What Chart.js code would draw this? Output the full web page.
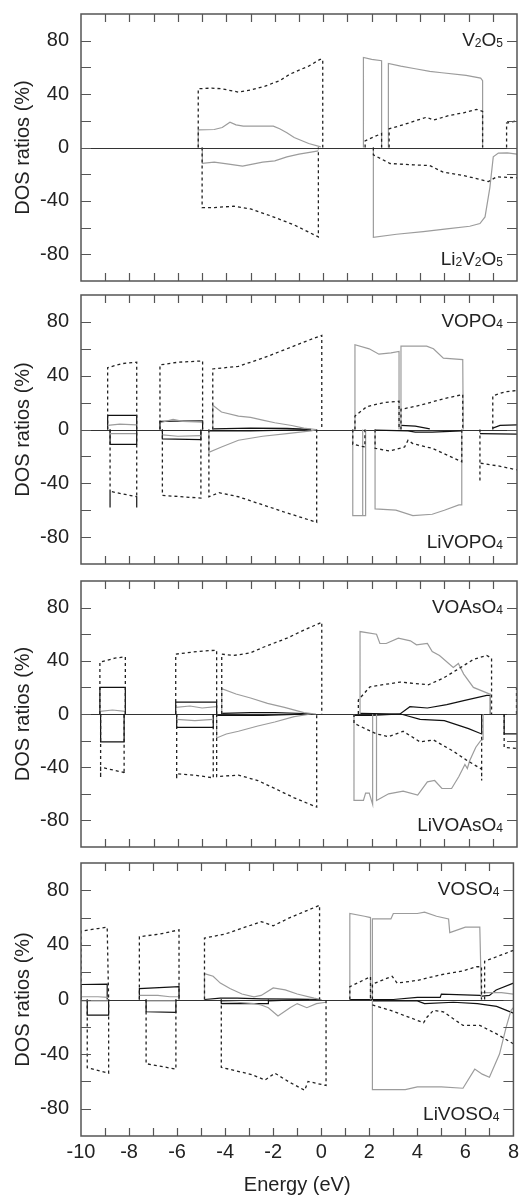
<!DOCTYPE html>
<html>
<head>
<meta charset="utf-8">
<title>DOS ratios</title>
<script src="https://cdn.jsdelivr.net/npm/chart.js@4.4.1/dist/chart.umd.min.js"></script>
<style>
  body { margin: 0; background: #fff; }
  #wrap { position: relative; width: 523px; height: 1199px; }
  #wrap canvas { position: absolute; left: 0; }
</style>
</head>
<body>
<div id="wrap"></div>
<script>
//* GLOBALS / DATA *//
const energyTicks = [-10, -8, -6, -4, -2, 0, 2, 4, 6, 8];
const ratioTicks = [-80, -40, 0, 40, 80];
const topNames = ['V2O5', 'VOPO4', 'VOAsO4', 'VOSO4'];
const bottomNames = ['Li2V2O5', 'LiVOPO4', 'LiVOAsO4', 'LiVOSO4'];

// V2O5 (up) / Li2V2O5 (down)   [energy eV, ratio %], null = gap
const p1DashUp = [[-5.16,0],[-5.16,44],[-4.6,44.5],[-4.2,44],[-3.5,41.5],[-3,43],[-2.4,46],[-1.8,50],[-1.37,55],[-0.6,61],[-0.13,66],[-0.02,66],[-0.02,0],null,
  [1.73,0],[1.73,5],[2.41,10.5],[2.41,0],null,[2.72,0],[2.72,14],[3.3,17],[3.8,20],[4.27,22.7],[4.55,20.5],[5.2,24],[5.8,26],[6.34,28.5],[6.58,27],[6.58,0],null,[7.57,0],[7.57,18.3],[8,20]];
const p1GrayUp = [[-5.16,0],[-5.16,13.2],[-4.5,13.5],[-4.17,15],[-3.85,19],[-3.6,17],[-3.3,16],[-2.6,16],[-2.06,16],[-1.8,14],[-1.5,11],[-1.2,7.5],[-0.6,3],[-0.1,0.5],null,
  [1.66,0],[1.66,67.4],[2.0,66],[2.41,65],[2.41,0],null,[2.69,0],[2.69,63],[3.2,61],[3.8,59],[4.4,57],[4.9,56],[5.9,54],[6.5,52],[6.58,50],[6.58,0]];
const p1BlackUp = [];
const p1DashDown = [[-5.0,0],[-5.0,-45],[-4.5,-45],[-3.7,-44],[-3.0,-46],[-2.2,-51],[-1.2,-58],[-0.2,-67],[-0.2,0],null,
  [2.07,0],[2.07,-5.5],[2.76,-12],[3.72,-13],[4.4,-13.5],[4.95,-18.5],[5.8,-21],[6.82,-25.5],[7.16,-22],[8,-22.7]];
const p1GrayDown = [[-4.99,0],[-4.99,-11.8],[-4.5,-11],[-3.9,-12.5],[-3.33,-14],[-2.5,-11],[-2.0,-10],[-1.5,-7],[-1.0,-5],[-0.5,-3.5],[-0.2,-2.5],null,
  [2.07,0],[2.07,-67.3],[3.03,-65],[4.13,-63],[5.1,-61],[6.05,-59],[6.47,-57],[6.68,-52],[6.88,-30],[7.02,-7],[7.23,-4.2],[7.6,-4],[8,-5]];
const p1BlackDown = [];

// VOPO4 (up) / LiVOPO4 (down)
const p2DashUp = [[-8.9,0],[-8.9,46],[-8.3,49],[-7.7,50],[-7.7,0],null,[-6.74,0],[-6.74,48],[-6.0,50],[-4.98,51],[-4.98,0],null,
  [-4.56,0],[-4.56,45],[-3.5,47],[-2.5,53],[-1.5,60],[-0.8,65],[-0.06,70],[-0.06,0],null,
  [1.31,0],[1.31,10],[1.8,17],[2.5,20],[3.13,21],[3.13,0],null,[3.21,0],[3.21,15],[4.0,18],[5.0,23],[5.76,26],[5.76,0],null,[7.0,0],[7.0,25],[7.5,28],[8,29]];
const p2GrayUp = [[-8.9,3],[-8.4,4],[-7.7,3.5],null,[-6.74,5],[-6.2,7.5],[-5.8,6],[-4.98,5.5],null,
  [-4.56,0],[-4.56,18],[-4.2,13],[-3.5,10],[-3.0,9],[-2.5,7],[-2.0,5],[-1.3,3],[-0.8,1],[-0.3,0],null,
  [1.31,0],[1.31,63],[1.9,60],[2.3,56],[2.8,57],[3.13,58],[3.13,0],null,[3.21,0],[3.21,62],[4.27,62],[4.55,60],[4.96,53],[5.76,52],[5.78,0]];
const p2BlackUp = [[-8.9,0],[-8.9,10.5],[-7.7,10.5],[-7.7,0],null,[-6.74,0],[-6.74,6],[-4.98,6.5],[-4.98,0],null,
  [-4.56,0.5],[-3.0,1],[-1.5,0.8],[-0.5,0.2],null,[3.21,3],[3.8,2.5],[4.4,0.5],null,[7.0,1],[7.3,3],[8,3.5]];
const p2DashDown = [[-8.8,0],[-8.8,-58],[-8.8,-46],[-7.7,-50],[-7.7,-58],[-7.7,0],null,[-6.64,0],[-6.64,-49],[-5.05,-51],[-5.05,0],null,
  [-4.72,0],[-4.72,-50],[-4.3,-47],[-3.5,-50],[-2.5,-56],[-1.5,-62],[-0.27,-69],[-0.27,0],null,
  [1.22,0],[1.22,-11],[1.72,-13],[1.72,0],null,[2.14,0],[2.14,-14],[2.75,-16],[3.36,-13],[3.5,-8],[3.7,-10.5],[4.5,-14],[5.72,-24],[5.72,0],null,
  [6.47,0],[6.47,-39],[6.47,-25],[7.2,-27],[8,-30]];
const p2GrayDown = [[-8.8,-3],[-7.7,-3],null,[-6.64,-4],[-6.0,-5],[-5.05,-4.5],null,
  [-4.72,0],[-4.72,-17],[-4.2,-13],[-3.5,-8],[-2.5,-5],[-1.5,-3],[-0.5,-1],[-0.27,0],null,
  [1.22,0],[1.22,-64],[1.75,-64],[1.75,0],null,[1.63,0],[1.63,-64],null,
  [2.14,0],[2.14,-59],[3.0,-60],[3.7,-64],[4.5,-63],[5.0,-60],[5.6,-56],[5.72,-56],[5.72,0]];
const p2BlackDown = [[-8.8,0],[-8.8,-11],[-7.7,-11],[-7.7,0],null,[-6.64,0],[-6.64,-7],[-5.05,-7.5],[-5.05,0],null,
  [-4.72,-1],[-3.0,-1],[-1.5,-0.5],[-0.5,0],null,[2.14,-0.5],[3.5,-1],[3.8,-2],[4.5,-2],[5.72,-1],null,[6.47,-3],[8,-3.5]];

// VOAsO4 (up) / LiVOAsO4 (down)
const p3DashUp = [[-9.22,0],[-9.22,39],[-8.6,42],[-8.17,43],[-8.17,0],null,[-6.09,0],[-6.09,45],[-5.2,47],[-4.4,48],[-4.4,0],null,
  [-4.19,0],[-4.19,45],[-3.7,44],[-3.0,46],[-2.5,50],[-1.5,57],[-0.8,63],[-0.06,69],[-0.06,0],null,
  [1.45,0],[1.45,10.5],[1.93,20.5],[3.17,24],[4.34,22],[4.96,27],[5.5,33],[6.2,41],[6.75,44],[6.95,42],[6.95,0],null,[7.98,0],[7.98,20]];
const p3GrayUp = [[-9.22,2],[-8.7,3],[-8.17,2],null,[-6.09,5],[-5.5,6],[-5.0,4.5],[-4.4,5.5],null,
  [-4.19,0],[-4.19,19],[-3.6,15],[-3.0,12],[-2.3,8],[-1.6,5],[-0.8,1],[-0.3,0],null,
  [1.52,0],[1.52,62],[2.2,60],[2.34,53],[2.6,53],[3.1,57],[3.6,55],[3.85,52],[4.3,53],[4.5,47],[4.8,44],[5.37,35],[5.58,38],[5.8,30],[6.2,20],[6.88,15],[6.9,15],[6.9,0]];
const p3BlackUp = [[-9.22,0],[-9.22,20],[-8.17,20],[-8.17,0],null,[-6.09,0],[-6.09,9],[-4.4,9],[-4.4,0],null,
  [-4.19,0.5],[-3.0,1],[-2.0,1],[-0.5,0.2],null,[1.52,0.5],[3.17,0],[3.58,5.5],[4.3,4.5],[5.1,7],[5.8,10],[6.75,14],[6.9,14],[6.9,0]];
const p3DashDown = [[-9.19,0],[-9.19,-48],[-9.19,-40],[-8.22,-44],[-8.22,-45],[-8.22,0],null,[-6.05,0],[-6.05,-49],[-6.05,-45],[-5.3,-46],[-4.54,-48],[-4.54,0],null,
  [-4.4,0],[-4.4,-47],[-3.5,-46],[-2.7,-50],[-2.0,-56],[-1.2,-63],[-0.27,-70],[-0.27,0],null,
  [1.27,0],[1.27,-7],[2.2,-15],[2.7,-17],[3.3,-13],[4.0,-21],[4.55,-19.5],[5.37,-28],[5.9,-34.5],[6.54,-41.5],[6.54,-50],[6.54,0],null,[7.47,0],[7.47,-25],[8,-26]];
const p3GrayDown = [[-6.05,-4],[-5.3,-5],[-4.54,-4],null,
  [-4.4,0],[-4.4,-18],[-4.0,-15],[-3.5,-13],[-2.7,-9],[-2.0,-6],[-1.2,-2],[-0.5,0],null,
  [1.27,0],[1.27,-65],[1.66,-65],[1.75,-59.5],[1.9,-59.5],[2.04,-68],[2.04,0],null,
  [2.2,0],[2.2,-65],[2.7,-60],[3.3,-58],[3.9,-61],[4.3,-51],[4.6,-50],[4.9,-56],[5.3,-56],[5.6,-47],[5.85,-38],[5.95,-41],[6.05,-35],[6.3,-25],[6.5,-20],[6.6,-19],[6.6,0]];
const p3BlackDown = [[-9.19,0],[-9.19,-21],[-8.22,-21],[-8.22,0],null,[-6.05,0],[-6.05,-10],[-4.54,-10],[-4.54,0],null,
  [-4.4,-1],[-2.5,-1],[-0.5,0],null,[1.27,-1],[2.0,-1],[3.2,0],[4.0,-4],[5.0,-5],[5.5,-8],[6.0,-11],[6.54,-15],[6.54,0],null,[7.47,0],[7.47,-15],[8,-15]];

// VOSO4 (up) / LiVOSO4 (down)
const p4DashUp = [[-10,0],[-10,50],[-9.3,52],[-8.91,53],[-8.85,0],null,[-7.57,0],[-7.57,46],[-6.7,48],[-5.92,51],[-5.92,0],null,
  [-4.86,0],[-4.86,45],[-4.0,48],[-3.5,51],[-2.5,57],[-2.0,54],[-1.3,60],[-0.07,69],[-0.07,0],null,
  [1.19,0],[1.19,9.4],[2.05,16.7],[2.05,0],null,[2.13,0],[2.13,11.3],[2.95,17],[3.16,12],[4.0,14],[4.95,18],[5.9,21],[6.46,24],[6.67,24],[6.67,0],null,[6.8,0],[6.8,28],[8,36]];
const p4GrayUp = [[-10,2],[-9.3,2],[-8.85,1.5],null,[-7.57,3],[-6.8,3],[-6.3,2],[-5.92,2],null,
  [-4.86,0],[-4.86,19],[-4.5,17],[-4.2,12],[-3.8,8],[-3.3,4],[-2.8,2],[-2.5,3],[-2.0,8.5],[-1.5,7],[-1.0,4],[-0.3,1],[0,0],null,
  [1.19,0],[1.19,63],[1.8,61],[2.05,60],[2.05,0],null,[2.13,0],[2.13,59],[2.9,59],[3.0,63],[4.0,63],[4.3,64],[4.8,61],[5.3,59],[5.35,49],[6.0,53],[6.6,53],[6.67,0],null,[6.7,5],[7.5,5],[8,4]];
const p4BlackUp = [[-10,0],[-10,11],[-8.91,11.3],[-8.91,0],null,[-7.57,0],[-7.57,8],[-5.92,9.5],[-5.92,0],null,
  [-4.86,0],[-4.2,1],[-3.5,1],[-2.5,0.5],[-1.0,0.3],[0,0],null,[1.19,0],[3.0,0],[4.0,1.5],[4.95,1.5],[5.0,4],[6.6,3],[6.7,2.5],[7.0,3],[7.28,7],[8,12]];
const p4DashDown = [[-9.74,0],[-9.74,-50],[-9.5,-51],[-8.85,-54],[-8.85,0],null,[-7.29,0],[-7.29,-47],[-6.05,-51],[-6.05,0],null,
  [-4.16,0],[-4.16,-49.7],[-2.9,-55],[-2.34,-59],[-1.93,-54],[-1.38,-60],[-0.69,-66.5],[-0.55,-60],[0.2,-63],[0.2,0],null,
  [2.13,-4],[2.89,-8],[4.26,-17],[4.4,-13],[4.67,-8],[5.08,-9],[5.9,-19],[6.6,-19],[7.28,-25],[8,-32.5]];
const p4GrayDown = [[-10,-1],[-8.85,-1],null,[-7.29,-1],[-6.05,-1],null,
  [-4.16,-1.5],[-3.5,-2],[-2.8,-3],[-2.5,-4],[-2.2,-6],[-1.8,-12],[-1.3,-6],[-1.0,-3],[-0.6,-6],[-0.2,-3],[0.2,-2],null,
  [2.13,0],[2.13,-66],[3.5,-66],[4.0,-64],[5.0,-64],[5.9,-65],[6.39,-51],[6.7,-54.7],[7.0,-57],[7.42,-40],[7.7,-20],[7.9,-8],[8,-6]];
const p4BlackDown = [[-9.74,0],[-9.74,-11.5],[-8.85,-11.5],[-8.85,0],null,[-7.29,0],[-7.29,-9],[-6.05,-9.5],[-6.05,0],null,
  [-4.16,0],[-4.16,-3],[-2.2,-3],[-2.2,0],null,[-2.2,-1],[-0.5,0],null,[2.13,-1],[4.0,-1],[4.3,-3],[5.5,-2],[6.5,-3],[7.3,-5],[8,-10]];

const panelSeries = [
  [p1DashUp, p1GrayUp, p1BlackUp, p1DashDown, p1GrayDown, p1BlackDown],
  [p2DashUp, p2GrayUp, p2BlackUp, p2DashDown, p2GrayDown, p2BlackDown],
  [p3DashUp, p3GrayUp, p3BlackUp, p3DashDown, p3GrayDown, p3BlackDown],
  [p4DashUp, p4GrayUp, p4BlackUp, p4DashDown, p4GrayDown, p4BlackDown]
];

//* LAYOUT (canvas top / height / chart area padding) *//
const panelBoxes = [
  { top: 6,   height: 283, padTop: 8, padBottom: 8 },
  { top: 287, height: 285, padTop: 8, padBottom: 8 },
  { top: 573, height: 282, padTop: 8, padBottom: 8 },
  { top: 855, height: 344, padTop: 8, padBottom: 0 }
];

const FONT = "'Liberation Sans', Arial, Helvetica, sans-serif";
const seriesStyles = [
  { color: '#222', width: 1.3, dash: [3, 3] },
  { color: '#9c9c9c', width: 1.2, dash: [] },
  { color: '#111', width: 1.2, dash: [] }
];

//* HELPERS *//
function toPoints(list) {
  let out = [];
  let lastX = 0;
  for (let i = 0; i < list.length; i++) {
    if (list[i] === null) {
      out.push({ x: lastX, y: null });
    } else {
      out.push({ x: list[i][0], y: list[i][1] });
      lastX = list[i][0];
    }
  }
  return out;
}

// draws e.g. VOPO4 with the digits as small subscripts, right aligned
function drawFormula(ctx, text, rightX, baseY) {
  let parts = text.match(/[0-9]+|[^0-9]+/g);
  let bigFont = '19px ' + FONT;
  let smallFont = '12px ' + FONT;
  let total = 0;
  parts.forEach(p => {
    ctx.font = /[0-9]/.test(p) ? smallFont : bigFont;
    total += ctx.measureText(p).width;
  });
  let x = rightX - total;
  ctx.textAlign = 'left';
  ctx.textBaseline = 'alphabetic';
  ctx.fillStyle = '#222';
  parts.forEach(p => {
    let isSub = /[0-9]/.test(p);
    ctx.font = isSub ? smallFont : bigFont;
    ctx.fillText(p, x, baseY + (isSub ? 1 : 0));
    x += ctx.measureText(p).width;
  });
}

//* PLUGIN: frame, inward ticks, zero line, compound names *//
const panelFrame = {
  id: 'panelFrame',
  beforeDatasetsDraw(chart) {
    const { ctx, chartArea: a, scales: { y } } = chart;
    let y0 = Math.round(y.getPixelForValue(0)) + 0.5;
    ctx.save();
    ctx.strokeStyle = '#333';
    ctx.lineWidth = 1;
    ctx.beginPath();
    ctx.moveTo(a.left, y0);
    ctx.lineTo(a.right, y0);
    ctx.stroke();
    ctx.restore();
  },
  afterDatasetsDraw(chart, args, opts) {
    const { ctx, chartArea: a, scales: { x, y } } = chart;
    ctx.save();
    ctx.strokeStyle = '#555';
    ctx.lineWidth = 1.2;
    ctx.beginPath();
    for (let v = x.min + 1; v < x.max; v++) {
      let px = Math.round(x.getPixelForValue(v)) + 0.5;
      ctx.moveTo(px, a.top);
      ctx.lineTo(px, a.top + 8);
      ctx.moveTo(px, a.bottom);
      ctx.lineTo(px, a.bottom - 8);
    }
    for (let v = y.min + 20; v < y.max; v += 20) {
      let py = Math.round(y.getPixelForValue(v)) + 0.5;
      ctx.moveTo(a.left, py);
      ctx.lineTo(a.left + 10, py);
      ctx.moveTo(a.right, py);
      ctx.lineTo(a.right - 10, py);
    }
    ctx.stroke();
    ctx.lineWidth = 1.5;
    ctx.strokeRect(a.left, a.top, a.right - a.left, a.bottom - a.top);
    drawFormula(ctx, opts.topName, a.right - 14, y.getPixelForValue(80) + 5);
    drawFormula(ctx, opts.bottomName, a.right - 14, y.getPixelForValue(-80) + 11);
    ctx.restore();
  }
};

//* BUILD THE FOUR PANELS *//
let wrap = document.getElementById('wrap');

for (let i = 0; i < 4; i++) {
  let box = panelBoxes[i];
  let canvas = document.createElement('canvas');
  canvas.width = 523;
  canvas.height = box.height;
  canvas.style.top = box.top + 'px';
  wrap.appendChild(canvas);

  let isLast = i === 3;
  let datasets = panelSeries[i].map((series, k) => {
    let st = seriesStyles[k % 3];
    return {
      data: toPoints(series),
      borderColor: st.color,
      borderWidth: st.width,
      borderDash: st.dash,
      pointRadius: 0,
      tension: 0,
      spanGaps: false,
      fill: false
    };
  });

  new Chart(canvas, {
    type: 'line',
    data: { datasets: datasets },
    options: {
      responsive: false,
      animation: false,
      devicePixelRatio: 1,
      layout: { padding: { left: 0, right: 6, top: box.padTop, bottom: box.padBottom } },
      plugins: {
        legend: { display: false },
        tooltip: { enabled: false },
        panelFrame: { topName: topNames[i], bottomName: bottomNames[i] }
      },
      scales: {
        x: {
          type: 'linear',
          display: isLast,
          min: -10,
          max: 8,
          grid: { display: false, drawTicks: false },
          border: { display: false },
          ticks: {
            stepSize: 2,
            autoSkip: false,
            maxRotation: 0,
            padding: 4,
            color: '#222',
            font: { family: FONT, size: 20 },
            callback: v => energyTicks.includes(v) ? v : null
          },
          title: {
            display: true,
            text: 'Energy (eV)',
            color: '#222',
            font: { family: FONT, size: 20 },
            padding: { top: 5, bottom: 2 }
          }
        },
        y: {
          type: 'linear',
          min: -100,
          max: 100,
          grid: { display: false, drawTicks: false },
          border: { display: false },
          afterFit: scale => {
            scale.width = 81;
            scale.paddingTop = 0;
            scale.paddingBottom = 0;
          },
          ticks: {
            stepSize: 20,
            padding: 12,
            color: '#222',
            font: { family: FONT, size: 20 },
            callback: v => ratioTicks.includes(v) ? v : null
          },
          title: {
            display: true,
            text: 'DOS ratios (%)',
            color: '#222',
            font: { family: FONT, size: 20 },
            padding: { top: 11, bottom: 0 }
          }
        }
      }
    },
    plugins: [panelFrame]
  });
}
</script>
</body>
</html>
